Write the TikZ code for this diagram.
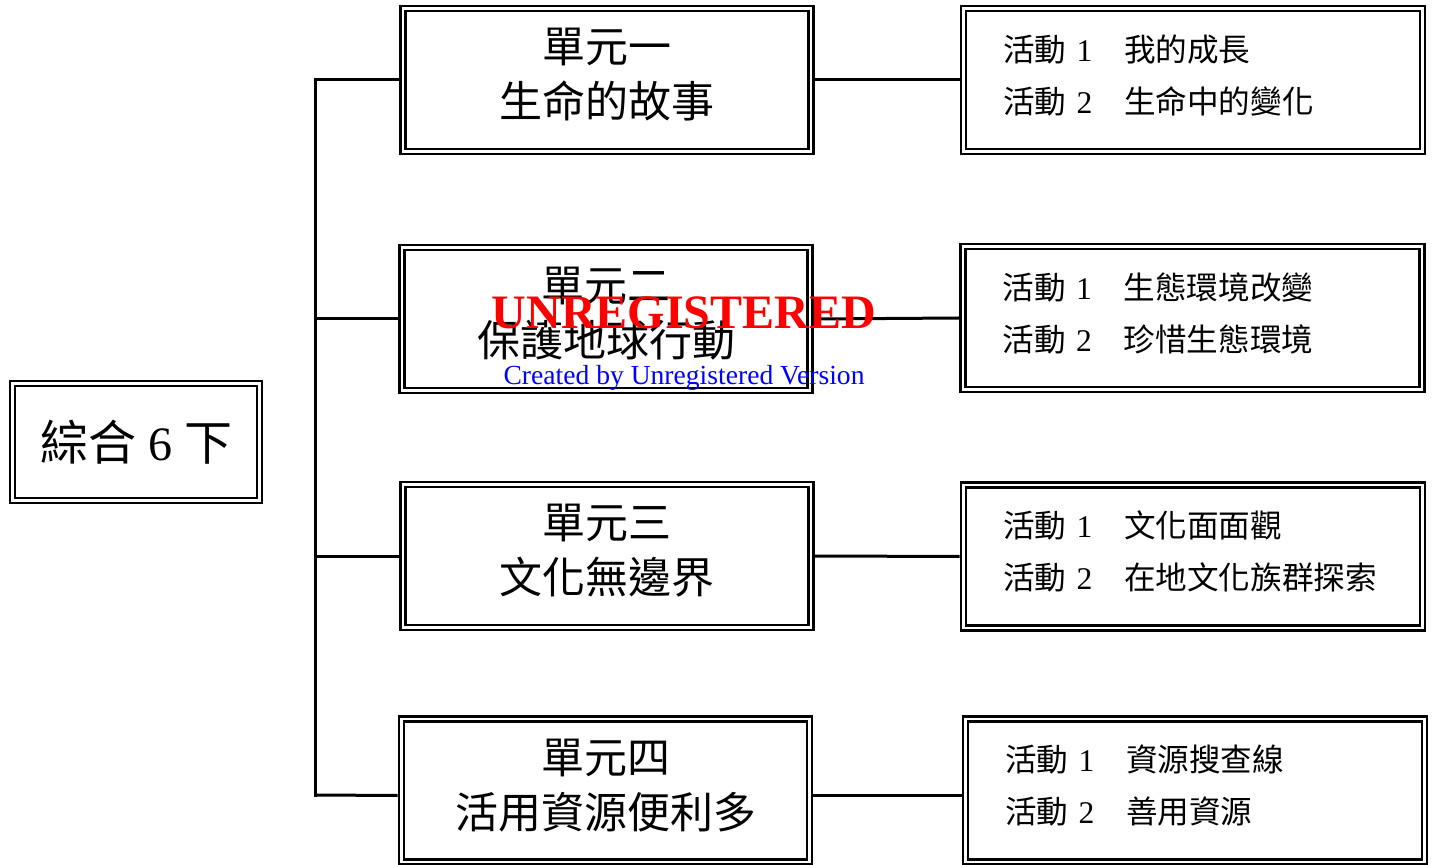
\documentclass[tikz,border=0pt]{standalone}
\usepackage{fontspec}
\setmainfont{Liberation Serif}
\newfontfamily\cjk{Noto Sans CJK TC}
\newcommand{\nr}[1]{{\rmfamily #1}}
\usepackage{tikz}
\usetikzlibrary{calc}

\begin{document}
\begin{tikzpicture}[x=0.5pt, y=-0.5pt,
  dbox/.style={draw, line width=1.2pt, double=white, double distance=1.3pt, outer sep=1.9pt, inner sep=0pt},
  unitbox/.style={dbox, minimum width=204pt, minimum height=71.5pt, text depth=7pt, align=center, font=\cjk\fontsize{21.5}{27.5}\selectfont},
  actbox/.style={dbox, minimum width=229.5pt, minimum height=71.5pt, text depth=32pt, text width=190pt, align=left, font=\cjk\fontsize{15.8}{26}\selectfont},
  link/.style={line width=1.5pt}]

\useasboundingbox (0,0) rectangle (1434,865);

% Root
\node[dbox, minimum width=123.5pt, minimum height=58.5pt, font=\fontsize{24}{24}\selectfont] (root) at (136,442) {{\cjk 綜合} 6 {\cjk 下}};

% Units
\node[unitbox] (u1) at (607,80) {單元一\\生命的故事};
\node[unitbox] (u2) at (606,319) {單元二\\保護地球行動};
\node[unitbox] (u3) at (607,556) {單元三\\文化無邊界};
\node[unitbox] (u4) at (605.5,790.5) {單元四\\活用資源便利多};

% Activities
\node[actbox] (a1) at (1193,80) {活動 \nr{1}\quad 我的成長\\活動 \nr{2}\quad 生命中的變化};
\node[actbox] (a2) at (1192.5,318) {活動 \nr{1}\quad 生態環境改變\\活動 \nr{2}\quad 珍惜生態環境};
\node[actbox] (a3) at (1193,556.5) {活動 \nr{1}\quad 文化面面觀\\活動 \nr{2}\quad 在地文化族群探索};
\node[actbox] (a4) at (1195,790.5) {活動 \nr{1}\quad 資源搜查線\\活動 \nr{2}\quad 善用資源};

% Trunk
\coordinate (t1) at (315,80);
\coordinate (t4) at (315,795);
\draw[link, line cap=rect] (t1) -- (t4);
\foreach \i in {1,2,3}{
  \draw[link] (u\i.west -| t1) -- (u\i.west);
  \draw[link] (u\i.east) -- (a\i.west);
}
\draw[link] (t4) -- ([yshift=-2.5pt]u4.west);
\draw[link] ([yshift=-2.5pt]u4.east) -- ([yshift=-2.5pt]a4.west);

% Watermark
\node[text=red, font=\bfseries\fontsize{24}{24}\selectfont] (mark) at (684,313) {UNREGISTERED};
\node[text=blue, font=\fontsize{13.8}{14}\selectfont] (marknote) at (684,378) {Created by Unregistered Version};

\end{tikzpicture}
\end{document}
